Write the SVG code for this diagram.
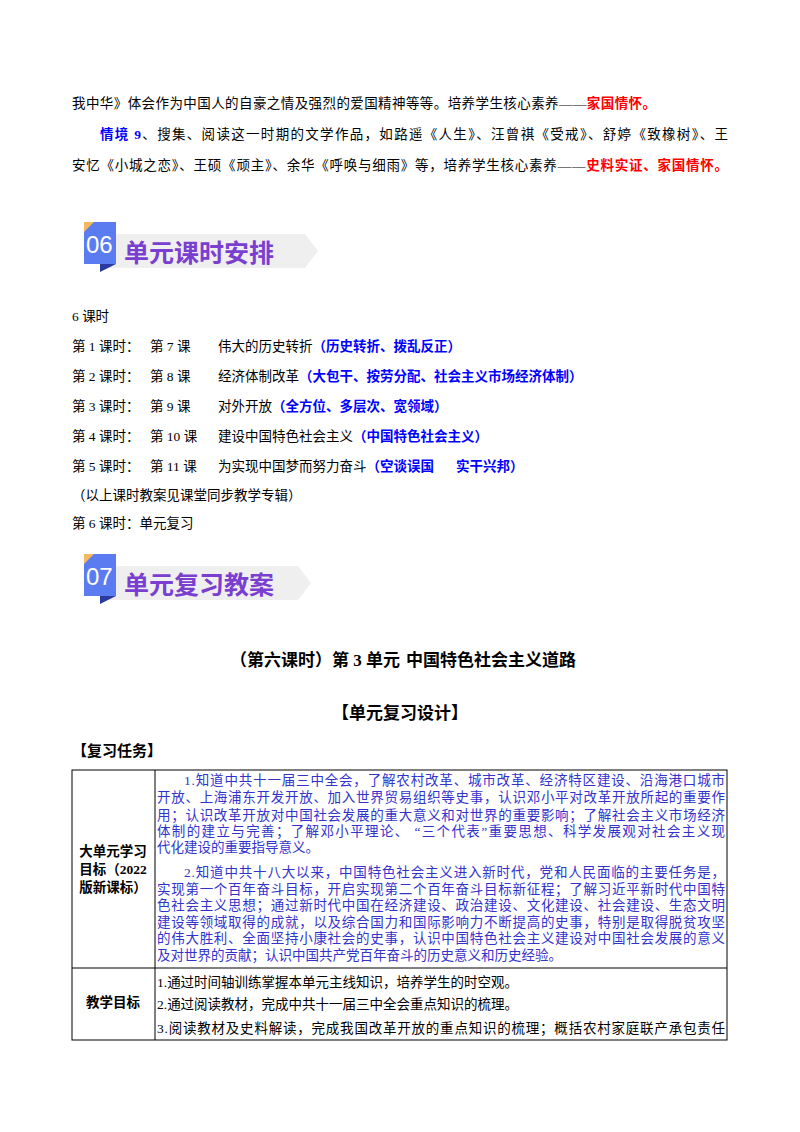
<svg xmlns="http://www.w3.org/2000/svg" width="800" height="1132" viewBox="0 0 800 1132">
<style>
text{font-family:"Liberation Serif","Noto Sans CJK SC",serif;font-size:13.5px;fill:#000}
.b{fill:#0000ff;font-weight:bold}
.r{fill:#ff0000;font-weight:bold}
.bl{fill:#3333cc}
.h{font-weight:bold}
.ban{font-family:"Noto Sans CJK SC",sans-serif;font-weight:bold;font-size:25px;fill:#7a3fd0}
.num{font-family:"Liberation Sans",sans-serif;font-size:24px;fill:#fff}
.ln{stroke:#000;stroke-width:1;fill:none}
</style>
<rect width="800" height="1132" fill="#fff"/>
<g id="intro">
<text x="72" y="108" textLength="584" lengthAdjust="spacing">我中华》体会作为中国人的自豪之情及强烈的爱国精神等等。培养学生核心素养——<tspan class="r">家国情怀。</tspan></text>
<text x="100" y="139" textLength="628" lengthAdjust="spacing"><tspan class="b">情境 9</tspan>、搜集、阅读这一时期的文学作品，如路遥《人生》、汪曾祺《受戒》、舒婷《致橡树》、王</text>
<text x="72" y="170" textLength="656" lengthAdjust="spacing">安忆《小城之恋》、王硕《顽主》、余华《呼唤与细雨》等，培养学生核心素养——<tspan class="r">史料实证、家国情怀。</tspan></text>
</g>
<g id="banner06">
<polygon points="100,234 305,234 318,251 305,268 100,268" fill="#efefef"/>
<rect x="84" y="222" width="32" height="42" fill="#5b7cf0"/>
<polygon points="84,222 94,222 84,232" fill="#f4b860"/>
<polygon points="100,264 116,264 100,272" fill="#2a3aa0"/>
<text class="num" x="86" y="253">06</text>
<text class="ban" x="124" y="262">单元课时安排</text>
</g>
<g id="schedule">
<text x="72" y="321">6 课时</text>
<text x="72" y="351">第 1 课时：</text><text x="150" y="351">第 7 课</text><text x="218" y="351">伟大的历史转折<tspan class="b">（历史转折、拨乱反正）</tspan></text>
<text x="72" y="381">第 2 课时：</text><text x="150" y="381">第 8 课</text><text x="218" y="381">经济体制改革<tspan class="b">（大包干、按劳分配、社会主义市场经济体制）</tspan></text>
<text x="72" y="411">第 3 课时：</text><text x="150" y="411">第 9 课</text><text x="218" y="411">对外开放<tspan class="b">（全方位、多层次、宽领域）</tspan></text>
<text x="72" y="441">第 4 课时：</text><text x="150" y="441">第 10 课</text><text x="218" y="441">建设中国特色社会主义<tspan class="b">（中国特色社会主义）</tspan></text>
<text x="72" y="471">第 5 课时：</text><text x="150" y="471">第 11 课</text><text x="218" y="471">为实现中国梦而努力奋斗<tspan class="b">（空谈误国</tspan></text><text class="b" x="456" y="471">实干兴邦）</text>
<text x="72" y="500">（以上课时教案见课堂同步教学专辑）</text>
<text x="72" y="528">第 6 课时：单元复习</text>
</g>
<g id="banner07">
<polygon points="100,566 298,566 311,583 298,600 100,600" fill="#efefef"/>
<rect x="84" y="554" width="32" height="42" fill="#5b7cf0"/>
<polygon points="84,554 94,554 84,564" fill="#f4b860"/>
<polygon points="100,596 116,596 100,604" fill="#2a3aa0"/>
<text class="num" x="86" y="585">07</text>
<text class="ban" x="124" y="594">单元复习教案</text>
</g>
<g id="titles">
<text class="h" x="230" y="666" style="font-size:17px">（第六课时）第 3 单元</text>
<text class="h" x="406" y="666" style="font-size:17px">中国特色社会主义道路</text>
<text class="h" x="400" y="719" text-anchor="middle" style="font-size:17px">【单元复习设计】</text>
<text class="h" x="72" y="756" style="font-size:15px">【复习任务】</text>
</g>
<g id="table">
<rect class="ln" x="72" y="770" width="655" height="270"/>
<line class="ln" x1="155" y1="770" x2="155" y2="1040"/>
<line class="ln" x1="72" y1="968" x2="727" y2="968"/>
<text class="h" x="113" y="856" text-anchor="middle">大单元学习</text>
<text class="h" x="113" y="874" text-anchor="middle">目标（2022</text>
<text class="h" x="113" y="892" text-anchor="middle">版新课标）</text>
<text class="h" x="113" y="1007" text-anchor="middle">教学目标</text>
<text class="bl" x="184" y="785" textLength="541" lengthAdjust="spacing">1.知道中共十一届三中全会，了解农村改革、城市改革、经济特区建设、沿海港口城市</text>
<text class="bl" x="157" y="802" textLength="568" lengthAdjust="spacing">开放、上海浦东开发开放、加入世界贸易组织等史事，认识邓小平对改革开放所起的重要作</text>
<text class="bl" x="157" y="820" textLength="568" lengthAdjust="spacing">用；认识改革开放对中国社会发展的重大意义和对世界的重要影响；了解社会主义市场经济</text>
<text class="bl" x="157" y="836" textLength="568" lengthAdjust="spacing">体制的建立与完善；了解邓小平理论、 “三个代表”重要思想、科学发展观对社会主义现</text>
<text class="bl" x="157" y="852">代化建设的重要指导意义。</text>
<text class="bl" x="184" y="877" textLength="541" lengthAdjust="spacing">2.知道中共十八大以来，中国特色社会主义进入新时代，党和人民面临的主要任务是，</text>
<text class="bl" x="157" y="894" textLength="568" lengthAdjust="spacing">实现第一个百年奋斗目标，开启实现第二个百年奋斗目标新征程；了解习近平新时代中国特</text>
<text class="bl" x="157" y="910" textLength="568" lengthAdjust="spacing">色社会主义思想；通过新时代中国在经济建设、政治建设、文化建设、社会建设、生态文明</text>
<text class="bl" x="157" y="927" textLength="568" lengthAdjust="spacing">建设等领域取得的成就，以及综合国力和国际影响力不断提高的史事，特别是取得脱贫攻坚</text>
<text class="bl" x="157" y="943" textLength="568" lengthAdjust="spacing">的伟大胜利、全面坚持小康社会的史事，认识中国特色社会主义建设对中国社会发展的意义</text>
<text class="bl" x="157" y="960">及对世界的贡献；认识中国共产党百年奋斗的历史意义和历史经验。</text>
<text x="157" y="987">1.通过时间轴训练掌握本单元主线知识，培养学生的时空观。</text>
<text x="157" y="1009">2.通过阅读教材，完成中共十一届三中全会重点知识的梳理。</text>
<text x="157" y="1033" textLength="568" lengthAdjust="spacing">3.阅读教材及史料解读，完成我国改革开放的重点知识的梳理；概括农村家庭联产承包责任</text>
</g>
</svg>
